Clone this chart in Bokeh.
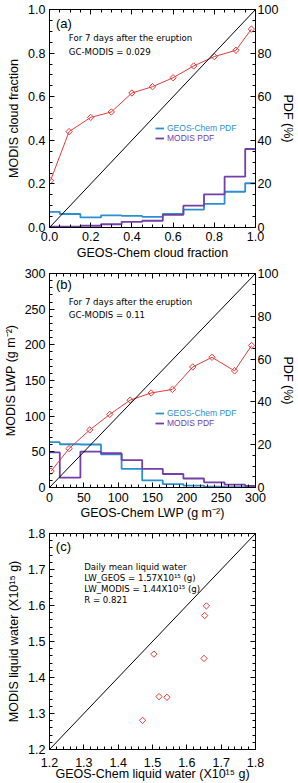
import numpy as np
from bokeh.plotting import figure
from bokeh.models import (Range1d, LinearAxis, FixedTicker, PrintfTickFormatter,
                          CustomJSTickFormatter, Legend, LegendItem, Label, Slope)
from bokeh.layouts import column
from bokeh.embed import file_html
from bokeh.resources import INLINE

# ---------------- data ----------------
# (a) cloud fraction
cf_gc = [0.005, 0.095, 0.2, 0.3, 0.4, 0.5, 0.6, 0.7, 0.8, 0.905, 0.98]
cf_modis = [0.215, 0.44, 0.505, 0.53, 0.617, 0.646, 0.687, 0.741, 0.784, 0.813, 0.91]
cf_bins = [0.0, 0.1, 0.2, 0.3, 0.4, 0.5, 0.6, 0.7, 0.8, 0.9, 1.0]
cf_pdf_gc = [7.2, 6.2, 4.6, 5.6, 5.3, 4.9, 6.2, 8.2, 10.8, 16.4, 20.3]
cf_pdf_modis = [0.4, 0.4, 0.8, 1.5, 2.6, 3.1, 5.8, 10.0, 15.2, 23.3, 36.0]
cf_text = ["For 7 days after the eruption", "GC-MODIS = 0.029"]

# (b) liquid water path
lwp_gc = [2.3, 28.5, 58.6, 87.8, 117.5, 148.0, 179.0, 208.6, 236.7, 269.5, 294.3]
lwp_modis = [23.0, 54.5, 80.7, 102.5, 122.5, 132.5, 137.5, 169.0, 182.5, 163.5, 199.0]
lwp_bins = [0, 30, 60, 90, 120, 150, 180, 210, 240, 270, 300]
lwp_pdf_gc = [21.2, 20.2, 20.1, 15.5, 8.7, 3.3, 1.6, 0.9, 0.4, 0.2, 0.1]
lwp_pdf_modis = [16.4, 4.6, 16.8, 16.0, 12.8, 8.7, 6.3, 4.2, 2.4, 1.3, 0.7]
lwp_text = ["For 7 days after the eruption", "GC-MODIS = 0.11"]

# (c) daily mean liquid water (x10^15 g)
lw_gc = [1.471, 1.504, 1.519, 1.542, 1.650, 1.652, 1.657]
lw_modis = [1.281, 1.465, 1.347, 1.345, 1.453, 1.572, 1.599]
lw_text = ["Daily mean liquid water", "LW_GEOS = 1.57X10\u00b9\u2075 (g)",
           "LW_MODIS = 1.44X10\u00b9\u2075 (g)", "R = 0.821"]

# ---------------- style ----------------
RED = "#e63a3a"
BLUE = "#2a90d2"
PURPLE = "#7340a8"
TICK_FONT = "Liberation Sans"
ANN_FONT = "DejaVu Sans"


def ticker(lo, hi, major, nminor):
    n = int(round((hi - lo) / major))
    maj = [round(lo + i * major, 6) for i in range(n + 1)]
    step = major / nminor
    m = int(round((hi - lo) / step))
    mnr = [round(lo + i * step, 6) for i in range(m + 1)]
    return FixedTicker(ticks=maj, minor_ticks=mnr)


def style_axis(ax, s1=4, s2=3):
    ax.major_tick_in = 5
    ax.major_tick_out = 0
    ax.minor_tick_in = 3
    ax.minor_tick_out = 0
    ax.axis_line_color = "black"
    ax.major_tick_line_color = "black"
    ax.minor_tick_line_color = "black"
    ax.major_label_text_font = TICK_FONT
    ax.major_label_text_font_size = "12.5px"
    ax.major_label_text_color = "black"
    ax.major_label_standoff = s1
    ax.axis_label_text_font = TICK_FONT
    ax.axis_label_text_font_size = "12.5px"
    ax.axis_label_text_font_style = "normal"
    ax.axis_label_text_color = "black"
    ax.axis_label_standoff = s2


def mirror(p, side, tk, range_name=None):
    kw = {}
    if range_name:
        kw["y_range_name"] = range_name
    ax = LinearAxis(ticker=tk, formatter=CustomJSTickFormatter(code="return ''"), **kw)
    style_axis(ax, 0, 0)
    ax.major_label_text_font_size = "1px"
    p.add_layout(ax, side)


def make_fig(height, top, bottom, xr, yr):
    p = figure(width=298, height=height, x_range=Range1d(*xr), y_range=Range1d(*yr),
               output_backend="svg", toolbar_location=None,
               min_border_left=47, min_border_right=38,
               min_border_top=top, min_border_bottom=bottom)
    p.xgrid.visible = False
    p.ygrid.visible = False
    p.outline_line_color = "black"
    p.outline_line_alpha = 1
    p.background_fill_color = "white"
    p.border_fill_color = "white"
    return p


def step_xy(centers, vals, lo, hi):
    c = np.asarray(centers, float)
    half = (c[1] - c[0]) / 2.0
    edges = np.clip(np.concatenate([[c[0] - half], c + half]), lo, hi)
    ys = list(vals) + [vals[-1]]
    return list(edges), ys


def add_label(p, x, y, text, font=ANN_FONT, size="8.6px"):
    p.add_layout(Label(x=x, y=y, text=text, text_font=font, text_font_size=size,
                       text_baseline="middle", text_align="left", text_color="black"))


def add_legend(p, renderer, label, color, loc):
    leg = Legend(items=[LegendItem(label=label, renderers=[renderer])], location=loc,
                 padding=0, margin=0, spacing=0, glyph_width=9, glyph_height=10,
                 label_height=10, label_standoff=3, border_line_color=None,
                 background_fill_alpha=0, label_text_font=TICK_FONT,
                 label_text_font_size="8.5px", label_text_color=color)
    p.add_layout(leg)


def pdf_panel(p, xlabel, ylabel, xt, yt, xfmt, bins, lo, hi, gc_pdf, mo_pdf,
              xs, ys, s1b, s2b, leg_gc, leg_mo):
    p.extra_y_ranges = {"pdf": Range1d(0, 100)}
    xa = p.below[0]
    ya = p.left[0]
    xa.ticker = xt
    ya.ticker = yt
    xa.formatter = PrintfTickFormatter(format=xfmt)
    ya.formatter = PrintfTickFormatter(format=xfmt)
    xa.axis_label = xlabel
    ya.axis_label = ylabel
    style_axis(xa, s1b, s2b)
    style_axis(ya, 4, 4)
    ra = LinearAxis(y_range_name="pdf", axis_label="PDF (%)", ticker=ticker(0, 100, 20, 4))
    style_axis(ra, 2, 0)
    p.add_layout(ra, "right")
    mirror(p, "above", xt)

    ex, ey = step_xy(bins, gc_pdf, lo, hi)
    r_gc = p.step(ex, ey, mode="after", y_range_name="pdf", line_color=BLUE, line_width=1.8)
    ex, ey = step_xy(bins, mo_pdf, lo, hi)
    r_mo = p.step(ex, ey, mode="after", y_range_name="pdf", line_color=PURPLE, line_width=1.8)
    p.add_layout(Slope(gradient=1, y_intercept=0, line_color="black", line_width=1))
    p.line(xs, ys, line_color=RED, line_width=1)
    p.scatter(xs, ys, marker="square", angle=np.pi / 4, size=4.5, line_color=RED,
              fill_color=None, line_width=1)
    add_legend(p, r_gc, "GEOS-Chem PDF", BLUE, leg_gc)
    add_legend(p, r_mo, "MODIS PDF", PURPLE, leg_mo)


# ---------------- panel (a) ----------------
pa = make_fig(262, 9, 35, (0, 1), (0, 1))
pdf_panel(pa, "GEOS-Chem cloud fraction", "MODIS cloud fraction",
          ticker(0, 1, 0.2, 4), ticker(0, 1, 0.2, 4), "%.1f",
          cf_bins, 0, 1, cf_pdf_gc, cf_pdf_modis, cf_gc, cf_modis, 4, 2,
          (106, 94), (106, 84))
add_label(pa, 0.031, 0.937, "(a)", font=TICK_FONT, size="13px")
add_label(pa, 0.094, 0.870, cf_text[0])
add_label(pa, 0.094, 0.807, cf_text[1])

# ---------------- panel (b) ----------------
pb = make_fig(260, 11, 34, (0, 300), (0, 300))
pdf_panel(pb, "GEOS-Chem LWP (g m\u207b\u00b2)", "MODIS LWP (g m\u207b\u00b2)",
          ticker(0, 300, 50, 5), ticker(0, 300, 50, 5), "%d",
          lwp_bins, 0, 300, lwp_pdf_gc, lwp_pdf_modis, lwp_gc, lwp_modis, 5, 1,
          (106, 69), (106, 59))
add_label(pb, 9.3, 284, "(b)", font=TICK_FONT, size="13px")
add_label(pb, 28, 260.7, lwp_text[0])
add_label(pb, 28, 242, lwp_text[1])

# ---------------- panel (c) ----------------
pc = make_fig(261, 11, 33, (1.2, 1.8), (1.2, 1.8))
tkc = ticker(1.2, 1.8, 0.1, 5)
xa = pc.below[0]
ya = pc.left[0]
xa.ticker = tkc
ya.ticker = tkc
xa.formatter = PrintfTickFormatter(format="%.1f")
ya.formatter = PrintfTickFormatter(format="%.1f")
xa.axis_label = "GEOS-Chem liquid water (X10\u00b9\u2075 g)"
ya.axis_label = "MODIS liquid water (X10\u00b9\u2075 g)"
style_axis(xa, 8, -3)
style_axis(ya, 4, 4)
mirror(pc, "above", ticker(1.2, 1.8, 0.1, 5))
mirror(pc, "right", ticker(1.2, 1.8, 0.1, 5))
pc.add_layout(Slope(gradient=1, y_intercept=0, line_color="black", line_width=1))
pc.scatter(lw_gc, lw_modis, marker="square", angle=np.pi / 4, size=4.5, line_color=RED,
           fill_color=None, line_width=1)
add_label(pc, 1.2185, 1.763, "(c)", font=TICK_FONT, size="13px")
add_label(pc, 1.301, 1.706, lw_text[0])
add_label(pc, 1.301, 1.676, lw_text[1])
add_label(pc, 1.301, 1.646, lw_text[2])
add_label(pc, 1.301, 1.614, lw_text[3])

layout = column(pa, pb, pc, spacing=0)
open("out.html", "w").write(file_html(layout, INLINE))
